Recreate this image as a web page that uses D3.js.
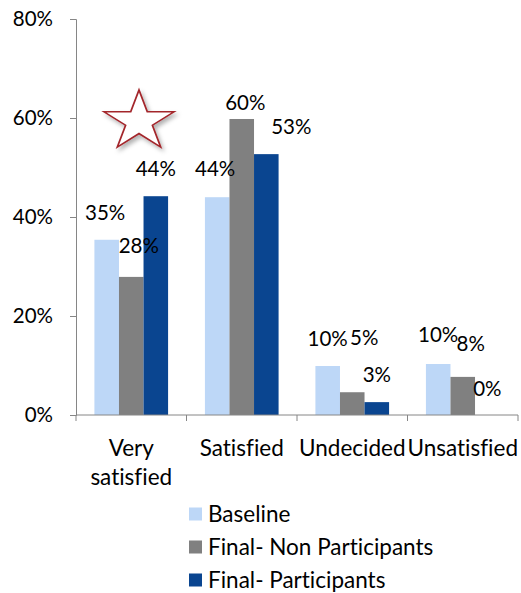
<!DOCTYPE html>
<html>
<head>
<meta charset="utf-8">
<script src="https://cdn.jsdelivr.net/npm/d3@7"></script>
<style>
  html, body { margin: 0; padding: 0; background: #fff; }
  svg text { font-family: Lato, "Open Sans", sans-serif; fill: #000; font-variant-ligatures: none; font-feature-settings: "liga" 0; }
</style>
</head>
<body>
<svg id="chart" width="521" height="593"></svg>
<script>
// ---- data ----
const categories = ["Very satisfied", "Satisfied", "Undecided", "Unsatisfied"];
const seriesNames = ["Baseline", "Final- Non Participants", "Final- Participants"];
const baseline = [35.4, 44.0, 9.9, 10.3];
const nonParticipants = [27.9, 59.8, 4.6, 7.7];
const participants = [44.2, 52.7, 2.6, 0];
const yTickValues = [0, 20, 40, 60, 80];

// ---- layout / style ----
const colors = ["#BDD7F7", "#808080", "#0A4590"];
const numSize = 20.5;
const wordSize = 22.5;
// per-label nudges (category, series) reproducing the reference's label placement
const labelNudge = [
  [[-1.5, 0], [7.5, -4], [0, 0]],
  [[-2, -1], [3.5, 11], [25, 0]],
  [[0, 0], [12, -27], [0, 0]],
  [[0, -2], [8, -6], [0, 1]]
];

const svg = d3.select("#chart");
const seriesValues = [baseline, nonParticipants, participants];

const x0 = d3.scaleBand().domain(categories).range([76, 518]).padding(0);
const bw = x0.bandwidth();
const x1 = d3.scaleBand().domain(seriesNames).range([bw / 6, bw * 5 / 6]).padding(0);
const y = d3.scaleLinear().domain([0, 80]).range([415, 19]);

// shadow filter for star
const defs = svg.append("defs");
const f = defs.append("filter").attr("id", "shadow").attr("x", "-30%").attr("y", "-30%").attr("width", "160%").attr("height", "160%");
f.append("feDropShadow").attr("dx", 2).attr("dy", 3).attr("stdDeviation", 2).attr("flood-color", "#000").attr("flood-opacity", 0.3);

// bars
const groups = svg.append("g").selectAll("g")
  .data(categories)
  .join("g")
  .attr("transform", d => `translate(${x0(d)},0)`);

groups.selectAll("rect")
  .data((c, ci) => seriesNames.map((s, si) => ({ c, ci, s, si, v: seriesValues[si][ci] })))
  .join("rect")
  .attr("x", d => x1(d.s))
  .attr("width", x1.bandwidth())
  .attr("y", d => y(d.v))
  .attr("height", d => y(0) - y(d.v))
  .attr("fill", d => colors[d.si]);

// value labels
groups.selectAll("text.val")
  .data((c, ci) => seriesNames.map((s, si) => ({ c, ci, s, si, v: seriesValues[si][ci] })))
  .join("text")
  .attr("class", "val")
  .attr("x", d => x1(d.s) + x1.bandwidth() / 2 + labelNudge[d.ci][d.si][0])
  .attr("y", d => y(d.v) - 27 + labelNudge[d.ci][d.si][1])
  .attr("dy", "0.35em")
  .attr("text-anchor", "middle")
  .style("font-size", numSize + "px")
  .text(d => Math.round(d.v) + "%");

// y axis
const yAxis = svg.append("g")
  .attr("transform", "translate(76,0)")
  .call(d3.axisLeft(y).tickValues(yTickValues).tickFormat(d => d + "%").tickSize(6).tickPadding(17));
yAxis.selectAll("path, line").attr("stroke", "#868686");
yAxis.selectAll("text").style("font-size", numSize + "px").attr("fill", "#000");

// x axis
const xAxisG = svg.append("g").attr("transform", `translate(0,${y(0)})`);
xAxisG.append("line").attr("x1", 76).attr("x2", 518).attr("y1", 0).attr("y2", 0).attr("stroke", "#868686");
const boundaries = categories.map(c => x0(c)).concat([x0(categories[categories.length - 1]) + bw]);
xAxisG.selectAll("line.tk").data(boundaries).join("line").attr("class", "tk")
  .attr("x1", d => d).attr("x2", d => d).attr("y1", 0).attr("y2", 6).attr("stroke", "#868686");

// category labels with wrapping
xAxisG.selectAll("text.cat").data(categories).join("text")
  .attr("class", "cat")
  .attr("text-anchor", "middle")
  .style("font-size", wordSize + "px")
  .attr("transform", d => `translate(${x0(d) + bw / 2},33)`)
  .each(function (d) {
    const t = d3.select(this);
    t.text(d);
    if (this.getComputedTextLength() > bw && d.includes(" ")) {
      t.text(null);
      d.split(" ").forEach((w, i) => {
        t.append("tspan").attr("x", 0).attr("y", i * 29).attr("dy", "0.35em").text(w);
      });
    } else {
      t.attr("dy", "0.35em");
    }
  });

// star
const star = d3.symbol().type(d3.symbolStar).size(1114);
svg.append("path")
  .attr("d", star())
  .attr("transform", "translate(139,121.5) scale(1.17,1)")
  .attr("fill", "#fff")
  .attr("stroke", "#A3262C")
  .attr("stroke-width", 1.5)
  .attr("filter", "url(#shadow)");

// legend
const legend = svg.append("g").selectAll("g").data(seriesNames).join("g")
  .attr("transform", (d, i) => `translate(189,${514 + i * 33})`);
legend.append("rect").attr("x", 0).attr("y", -6.5).attr("width", 13).attr("height", 13).attr("fill", (d, i) => colors[i]);
legend.append("text").attr("x", 19).attr("dy", "0.35em").style("font-size", wordSize + "px").text(d => d);
</script>
</body>
</html>
